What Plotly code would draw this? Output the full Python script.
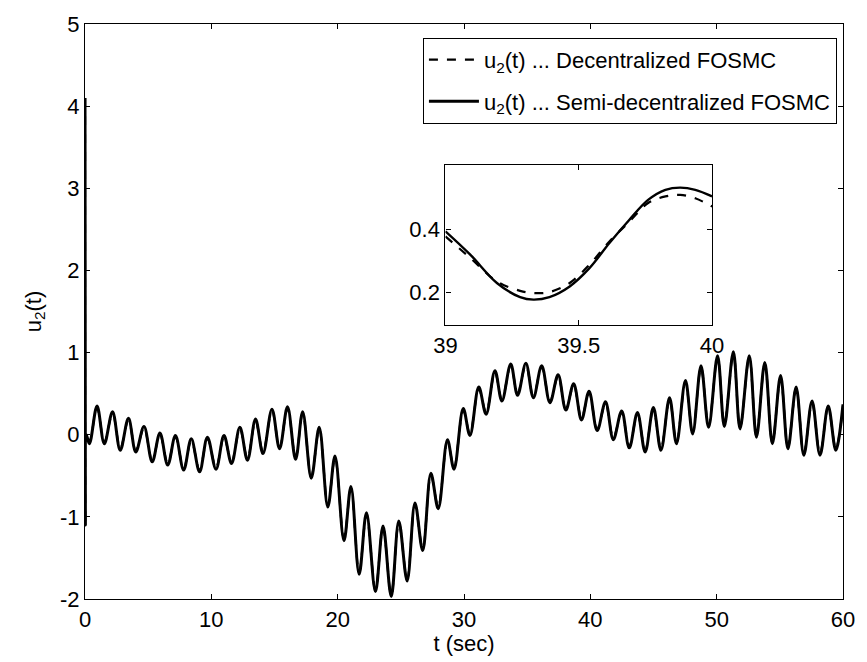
import plotly.graph_objects as go

# ---------------- data ----------------
# main plot: local extrema of u2(t), in time order
t_main = [
    0.0, 0.03, 0.1,
    0.35, 0.955, 1.53, 2.18, 2.79, 3.44, 4.02, 4.67, 5.32, 5.93,
    6.55, 7.16, 7.81, 8.41, 9.07, 9.69, 10.37, 11.0, 11.6, 12.26,
    12.86, 13.5, 14.09, 14.8, 15.4, 16.03, 16.67, 17.23, 17.91, 18.54,
    19.22, 19.79, 20.5, 21.05, 21.7, 22.28, 22.99, 23.59, 24.24, 24.84,
    25.5, 26.12, 26.73, 27.38, 27.96, 28.69, 29.21, 29.94, 30.47, 31.17,
    31.75, 32.45, 33.0, 33.7, 34.24, 34.9, 35.49, 36.15, 36.8, 37.45,
    38.06, 38.68, 39.3, 39.9, 40.54, 41.2, 41.82, 42.48, 43.08, 43.73,
    44.34, 44.99, 45.59, 46.27, 46.82, 47.53, 48.1, 48.76, 49.36, 50.07,
    50.61, 51.32, 51.85, 52.58, 53.15, 53.81, 54.41, 55.06, 55.64, 56.29,
    56.9, 57.55, 58.18, 58.83, 59.43, 60.0,
]
u_semi = [
    4.1, -1.1, 0.0,
    -0.11, 0.35, -0.11, 0.28, -0.19, 0.20, -0.21, 0.10, -0.33, 0.02,
    -0.37, -0.01, -0.43, -0.05, -0.45, -0.03, -0.42, -0.01, -0.35, 0.09,
    -0.31, 0.19, -0.23, 0.31, -0.17, 0.34, -0.30, 0.28, -0.53, 0.09,
    -0.88, -0.26, -1.29, -0.63, -1.70, -0.95, -1.91, -1.11, -1.97, -1.05,
    -1.78, -0.83, -1.41, -0.47, -0.90, -0.06, -0.42, 0.32, -0.01, 0.58,
    0.25, 0.78, 0.41, 0.86, 0.48, 0.87, 0.45, 0.84, 0.39, 0.73,
    0.30, 0.62, 0.18, 0.53, 0.05, 0.40, -0.06, 0.29, -0.16, 0.27,
    -0.21, 0.33, -0.19, 0.45, -0.11, 0.66, 0.01, 0.84, 0.09, 0.96,
    0.10, 1.01, 0.07, 0.96, -0.03, 0.88, -0.11, 0.72, -0.17, 0.58,
    -0.25, 0.41, -0.25, 0.35, -0.19, 0.37,
]
u_dec = [
    4.1, -1.1, 0.0,
    -0.09, 0.33, -0.09, 0.26, -0.17, 0.18, -0.19, 0.08, -0.31, 0.00,
    -0.35, -0.03, -0.41, -0.07, -0.43, -0.05, -0.40, -0.03, -0.33, 0.07,
    -0.29, 0.17, -0.21, 0.29, -0.15, 0.32, -0.28, 0.26, -0.51, 0.07,
    -0.86, -0.28, -1.27, -0.65, -1.68, -0.97, -1.89, -1.13, -1.95, -1.07,
    -1.76, -0.85, -1.39, -0.49, -0.88, -0.08, -0.40, 0.30, 0.01, 0.56,
    0.27, 0.76, 0.43, 0.84, 0.50, 0.85, 0.47, 0.82, 0.41, 0.71,
    0.32, 0.60, 0.20, 0.51, 0.07, 0.38, -0.04, 0.27, -0.14, 0.25,
    -0.19, 0.31, -0.17, 0.43, -0.09, 0.64, 0.03, 0.82, 0.11, 0.94,
    0.12, 0.99, 0.09, 0.94, -0.01, 0.86, -0.09, 0.70, -0.15, 0.56,
    -0.23, 0.39, -0.23, 0.33, -0.17, 0.35,
]

# inset (zoom on 39..40 s)
t_zoom = [39.0, 39.094, 39.193, 39.28, 39.33, 39.39, 39.466, 39.54,
          39.615, 39.69, 39.76, 39.825, 39.88, 39.937, 40.0]
u_zoom_semi = [0.393, 0.318, 0.229, 0.184, 0.176, 0.184, 0.218, 0.276,
               0.356, 0.430, 0.493, 0.525, 0.532, 0.525, 0.504]
u_zoom_dec = [0.377, 0.308, 0.234, 0.204, 0.197, 0.200, 0.229, 0.287,
              0.361, 0.424, 0.483, 0.504, 0.509, 0.498, 0.472]

x_ticks = [0, 10, 20, 30, 40, 50, 60]
x_ticklabels = ["0", "10", "20", "30", "40", "50", "60"]
y_ticks = [-2, -1, 0, 1, 2, 3, 4, 5]
y_ticklabels = ["-2", "-1", "0", "1", "2", "3", "4", "5"]
zx_ticks = [39, 39.5, 40]
zx_ticklabels = ["39", "39.5", "40"]
zy_ticks = [0.2, 0.4]
zy_ticklabels = ["0.2", "0.4"]

names = ["u<sub>2</sub>(t) ... Decentralized FOSMC",
         "u<sub>2</sub>(t) ... Semi-decentralized FOSMC"]

# ---------------- figure ----------------
FONT = "Liberation Sans, Arial, Helvetica, sans-serif"
FS = 22
fig = go.Figure()

fig.add_trace(go.Scatter(x=t_main, y=u_dec, mode="lines", name=names[0],
                         legendgroup="dec",
                         line=dict(color="black", width=2.2, dash="dash",
                                   shape="spline", smoothing=1.0)))
fig.add_trace(go.Scatter(x=t_main, y=u_semi, mode="lines", name=names[1],
                         legendgroup="semi",
                         line=dict(color="black", width=3,
                                   shape="spline", smoothing=1.0)))

fig.add_trace(go.Scatter(x=t_zoom, y=u_zoom_dec, mode="lines", showlegend=False,
                         xaxis="x2", yaxis="y2",
                         line=dict(color="black", width=2.2, dash="dash",
                                   shape="spline")))
fig.add_trace(go.Scatter(x=t_zoom, y=u_zoom_semi, mode="lines", showlegend=False,
                         xaxis="x2", yaxis="y2",
                         line=dict(color="black", width=2.4, shape="spline")))

axis_common = dict(showline=True, linecolor="black", linewidth=1.2,
                   mirror="ticks", ticks="inside", ticklen=5,
                   tickcolor="black", showgrid=False, zeroline=False,
                   tickfont=dict(family=FONT, size=FS, color="black"))

fig.update_layout(
    width=867, height=662,
    margin=dict(l=85, r=18, t=18, b=63),
    paper_bgcolor="white", plot_bgcolor="white",
    font=dict(family=FONT, size=FS, color="black"),
    xaxis=dict(range=[0, 60], tickvals=x_ticks, ticktext=x_ticklabels,
               title=dict(text="t (sec)", standoff=2,
                          font=dict(family=FONT, size=FS)),
               **axis_common),
    yaxis=dict(range=[-2, 5], tickvals=y_ticks, ticktext=y_ticklabels,
               title=dict(text="u<sub>2</sub>(t)", standoff=12,
                          font=dict(family=FONT, size=FS)),
               **axis_common),
    xaxis2=dict(domain=[0.4755, 0.8273], anchor="y2", range=[39, 40],
                tickvals=zx_ticks, ticktext=zx_ticklabels, **axis_common),
    yaxis2=dict(domain=[0.4763, 0.7554], anchor="x2", range=[0.095, 0.605],
                tickvals=zy_ticks, ticktext=zy_ticklabels, **axis_common),
    legend=dict(x=0.992, y=0.976, xanchor="right", yanchor="top",
                bordercolor="black", borderwidth=1, bgcolor="white",
                font=dict(family=FONT, size=FS, color="black"),
                itemwidth=50, tracegroupgap=10),
    showlegend=True,
)

fig.write_html("out.html")
